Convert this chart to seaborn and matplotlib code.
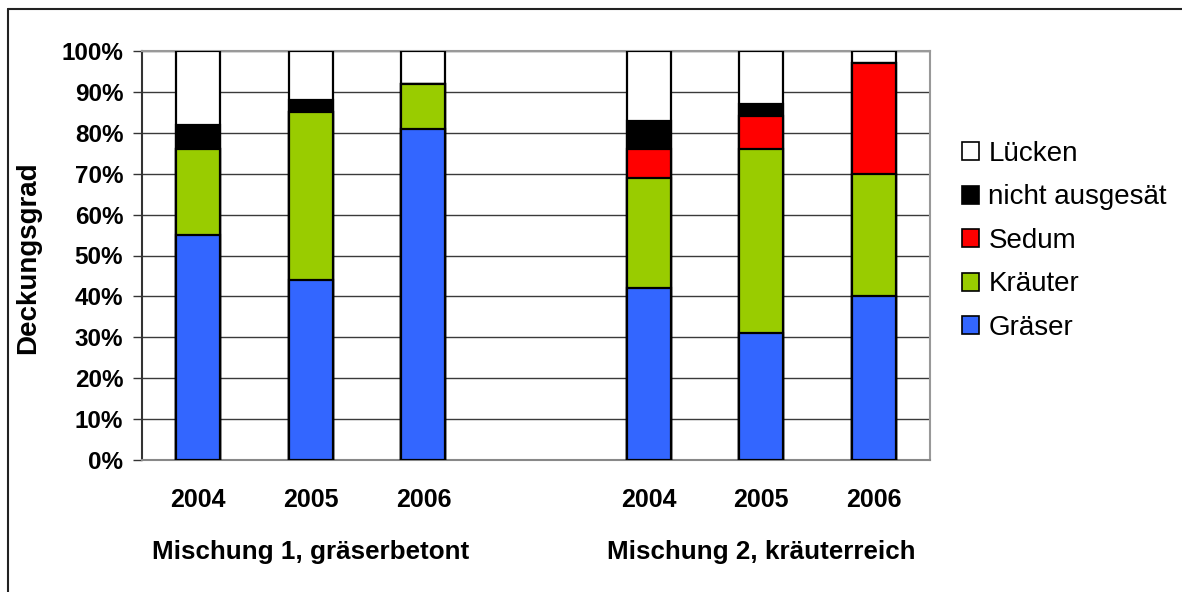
import matplotlib
matplotlib.use('Agg')
import matplotlib.pyplot as plt
import seaborn as sns
import pandas as pd
from matplotlib.patches import Patch
from matplotlib.lines import Line2D
from matplotlib.ticker import PercentFormatter

# Daten (Deckungsgrad in %)
mischung = ['Mischung 1, gräserbetont'] * 3 + ['Mischung 2, kräuterreich'] * 3
jahre = ['2004', '2005', '2006', '2004', '2005', '2006']
graeser = [55, 44, 81, 42, 31, 40]
kraeuter = [21, 41, 11, 27, 45, 30]
sedum = [0, 0, 0, 7, 8, 27]
nicht_ausgesaet = [6, 3, 0, 7, 3, 0]
luecken = [100 - g - k - s - n for g, k, s, n in zip(graeser, kraeuter, sedum, nicht_ausgesaet)]

farben = {
    'Lücken': '#FFFFFF',
    'nicht ausgesät': '#000000',
    'Sedum': '#FF0000',
    'Kräuter': '#99CC00',
    'Gräser': '#3366FF',
}

sns.set_style('white')
plt.rcParams['font.family'] = ['Liberation Sans', 'DejaVu Sans']
plt.rcParams['text.color'] = 'black'
plt.rcParams['xtick.color'] = 'black'
plt.rcParams['ytick.color'] = 'black'

df = pd.DataFrame({
    'slot': [m + '|' + j for m, j in zip(mischung, jahre)],
    'Gräser': graeser,
    'Kräuter': kraeuter,
    'Sedum': sedum,
    'nicht ausgesät': nicht_ausgesaet,
    'Lücken': luecken,
})
# gestapelt: kumulierte Summen, von oben nach unten zeichnen
schichten = ['Gräser', 'Kräuter', 'Sedum', 'nicht ausgesät', 'Lücken']
kum = df[schichten].cumsum(axis=1)
kum['slot'] = df['slot']

order = list(df['slot'][:3]) + ['leer'] + list(df['slot'][3:])

fig = plt.figure(figsize=(11.82, 5.92), dpi=100)
ax = fig.add_axes([142 / 1182, 1 - 460 / 592, 788 / 1182, 409 / 592])

for schicht in reversed(schichten):
    sns.barplot(data=kum, x='slot', y=schicht, order=order, color=farben[schicht],
                saturation=1, edgecolor='black', linewidth=1.6, width=0.39,
                errorbar=None, ax=ax, zorder=3)

ax.set_ylim(0, 100)
ax.set_xlim(-0.5, 6.5)
ax.set_yticks(range(0, 101, 10))
ax.yaxis.set_major_formatter(PercentFormatter(decimals=0))
ax.set_xticks(range(7))
ax.set_xticklabels(jahre[:3] + [''] + jahre[3:])
ax.set_xlabel('')
ax.set_ylabel('')

ax.tick_params(axis='y', left=True, length=6.5, width=1, color='#333333', pad=7,
               labelsize=17.5)
ax.tick_params(axis='x', length=0, pad=20, labelsize=18)
for lab in ax.get_xticklabels() + ax.get_yticklabels():
    lab.set_fontweight('bold')

ax.grid(axis='y', color='#3a3a3a', linewidth=1)
ax.set_axisbelow(True)
ax.spines['left'].set_color('#333333')
ax.spines['bottom'].set_color('#888888')
ax.spines['top'].set_color('#999999')
ax.spines['right'].set_color('#999999')
for sp in ax.spines.values():
    sp.set_linewidth(1.5)

# Gruppenbeschriftungen
for pos, name in [(1, mischung[0]), (5, mischung[3])]:
    ax.text(pos, -0.225, name, transform=ax.get_xaxis_transform(),
            ha='center', va='center', fontsize=18.7, fontweight='bold')

fig.text(28 / 1182, 1 - 258 / 592, 'Deckungsgrad', rotation=90, ha='center',
         va='center', fontsize=20, fontweight='bold')

handles = [Patch(facecolor=farben[s], edgecolor='black', linewidth=1.2, label=s)
           for s in ['Lücken', 'nicht ausgesät', 'Sedum', 'Kräuter', 'Gräser']]
fig.legend(handles=handles, loc='center left', bbox_to_anchor=(951 / 1182, 1 - 241 / 592),
           frameon=False, fontsize=20, handlelength=0.6, handleheight=0.6,
           handletextpad=0.35, labelspacing=0.63, borderaxespad=0)

# Rahmen um die Grafik
fig.add_artist(Line2D([8 / 1182, 1], [1 - 9 / 592, 1 - 9 / 592], color='#222222', lw=1.5))
fig.add_artist(Line2D([8 / 1182, 8 / 1182], [0, 1 - 9 / 592], color='#222222', lw=1.5))

fig.savefig('out.png', dpi=100)
